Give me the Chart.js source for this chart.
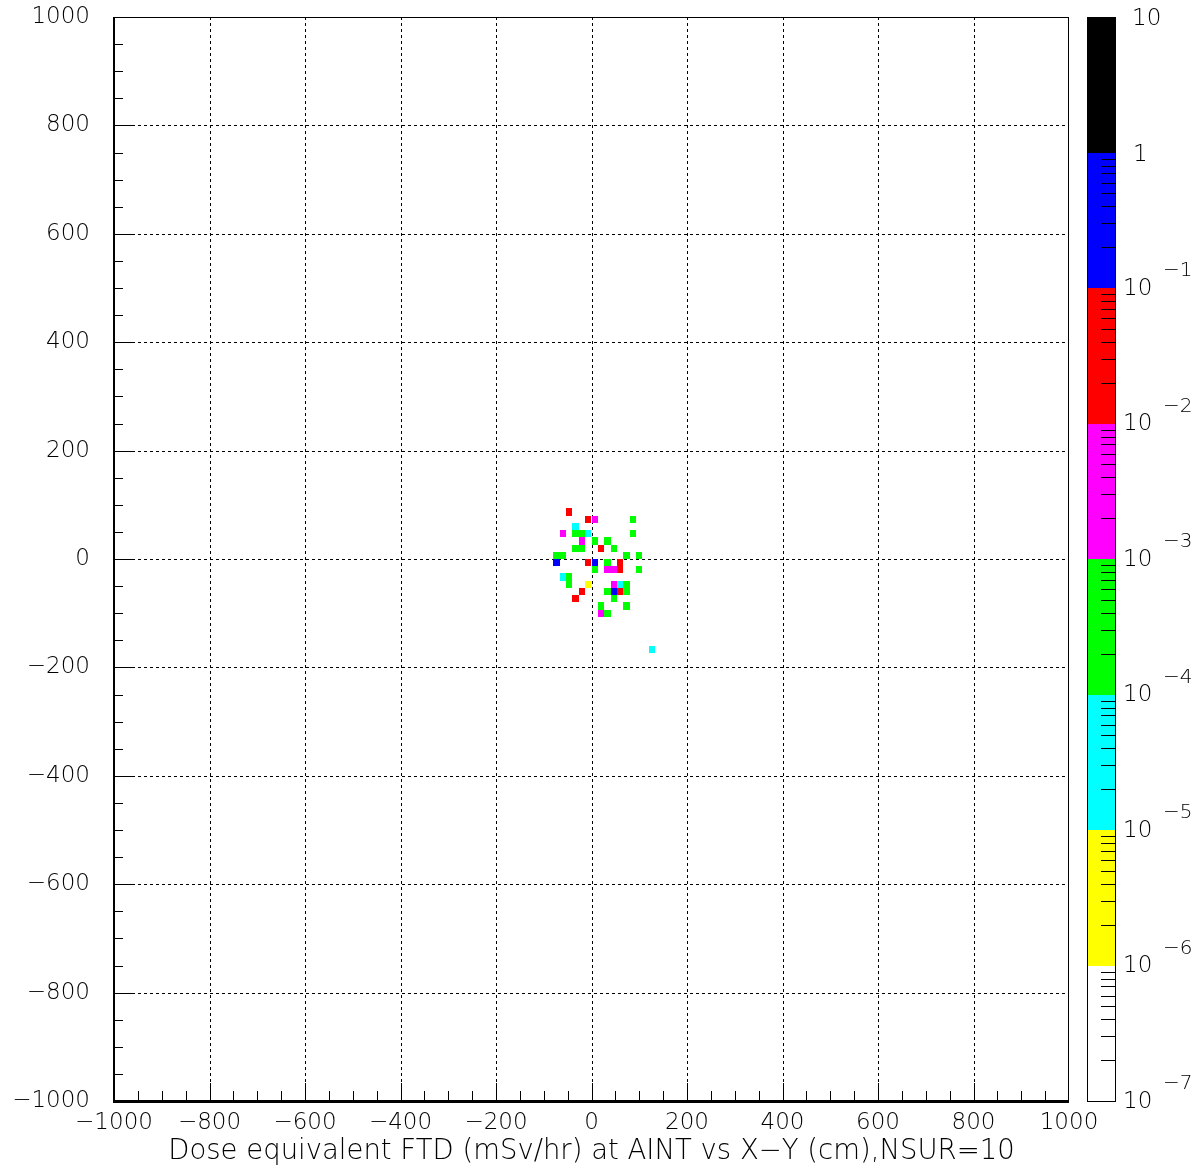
<!DOCTYPE html>
<html><head><meta charset="utf-8">
<script src="https://cdn.jsdelivr.net/npm/chart.js@4.4.1/dist/chart.umd.min.js"></script>
<style>html,body{margin:0;padding:0;background:#fff;}canvas{display:block;}</style>
</head><body>
<canvas id="c" width="1202" height="1173"></canvas>
<script>
// ---- data (bin centres in cm, dose equivalent in mSv/hr) ----
const cellX = [
  -46.7,
  -6.7, 6.7, 86.7,
  -33.3,
  -60.0, -33.3, -20.0, -6.7, 86.7,
  -20.0, 6.7, 33.3,
  -33.3, -20.0, 20.0, 46.7,
  -73.3, -60.0, 73.3, 100.0,
  -73.3, -6.7, 6.7, 33.3, 60.0,
  6.7, 33.3, 46.7, 60.0, 100.0,
  -60.0, -46.7,
  -46.7, -6.7, 46.7, 60.0, 73.3,
  -20.0, 33.3, 46.7, 60.0, 73.3,
  -33.3, 46.7,
  20.0, 73.3,
  20.0, 33.3,
  126.7
];
const cellY = [
  86.7,
  73.3, 73.3, 73.3,
  60.0,
  46.7, 46.7, 46.7, 46.7, 46.7,
  33.3, 33.3, 33.3,
  20.0, 20.0, 20.0, 20.0,
  6.7, 6.7, 6.7, 6.7,
  -6.7, -6.7, -6.7, -6.7, -6.7,
  -20.0, -20.0, -20.0, -20.0, -20.0,
  -33.3, -33.3,
  -46.7, -46.7, -46.7, -46.7, -46.7,
  -60.0, -60.0, -60.0, -60.0, -60.0,
  -73.3, -73.3,
  -86.7, -86.7,
  -100.0, -100.0,
  -166.7
];
const cellDose = [
  3e-2,
  3e-2, 3e-3, 3e-4,
  3e-5,
  3e-3, 3e-4, 3e-4, 3e-5, 3e-4,
  3e-3, 3e-4, 3e-4,
  3e-4, 3e-4, 3e-2, 3e-4,
  3e-4, 3e-4, 3e-4, 3e-4,
  3e-1, 3e-2, 3e-1, 3e-4, 3e-2,
  3e-4, 3e-3, 3e-3, 3e-2, 3e-4,
  3e-5, 3e-4,
  3e-4, 3e-6, 3e-3, 3e-5, 3e-4,
  3e-2, 3e-4, 3e-1, 3e-2, 3e-4,
  3e-2, 3e-4,
  3e-4, 3e-4,
  3e-3, 3e-4,
  3e-5
];
const axisTicks = [-1000,-800,-600,-400,-200,0,200,400,600,800,1000];
const colourLevels = [1e-7,1e-6,1e-5,1e-4,1e-3,1e-2,1e-1,1,10];
const colourExponents = [-7,-6,-5,-4,-3,-2,-1,0,1];
const levelColours = ['#ffffff','#ffff00','#00ffff','#00ff00','#ff00ff','#ff0000','#0000ff','#000000'];
const xTitle = 'Dose equivalent FTD (mSv/hr) at AINT vs X\u2212Y (cm),NSUR=10';
const BIN = 2000/150;

const FONT = "'DejaVu Sans ExtraLight', 'DejaVu Sans Light', 'DejaVu Sans'";
const fmt = v => v < 0 ? '\u2212' + Math.abs(v) : String(v);
function colourFor(v){
  for (let i = colourLevels.length-2; i >= 0; i--) if (v >= colourLevels[i]) return levelColours[i];
  return null;
}

const drawPlugin = {
  id: 'root2d',
  beforeDatasetsDraw(chart){
    const {ctx, chartArea:a, scales:{x,y}} = chart;
    ctx.save();
    ctx.strokeStyle = '#000'; ctx.lineWidth = 1; ctx.setLineDash([3,3]);
    axisTicks.forEach(v => {
      if (v === -1000 || v === 1000) return;
      const px = Math.round(x.getPixelForValue(v)) + 0.5;
      ctx.beginPath(); ctx.moveTo(px, a.top); ctx.lineTo(px, a.bottom); ctx.stroke();
      const py = Math.round(y.getPixelForValue(v)) + 0.5;
      ctx.beginPath(); ctx.moveTo(a.left, py); ctx.lineTo(a.right, py); ctx.stroke();
    });
    ctx.restore();
  },
  afterDatasetsDraw(chart){
    const {ctx, chartArea:a, scales:{x,y,z}} = chart;
    ctx.save();
    // cells
    for (let i = 0; i < cellX.length; i++){
      const c = colourFor(cellDose[i]); if (!c) continue;
      const x0 = Math.round(x.getPixelForValue(cellX[i]-BIN/2));
      const x1 = Math.round(x.getPixelForValue(cellX[i]+BIN/2));
      const y0 = Math.round(y.getPixelForValue(cellY[i]+BIN/2));
      const y1 = Math.round(y.getPixelForValue(cellY[i]-BIN/2));
      ctx.fillStyle = c; ctx.fillRect(x0, y0, x1-x0, y1-y0);
    }
    // frame
    ctx.strokeStyle = '#000';
    ctx.lineWidth = 1;
    ctx.strokeRect(a.left+0.5, a.top+0.5, a.right-a.left-1, a.bottom-a.top-1);
    ctx.lineWidth = 2;
    ctx.beginPath(); ctx.moveTo(a.left, a.top); ctx.lineTo(a.left, a.bottom+1); ctx.lineTo(a.right, a.bottom+1); ctx.stroke();
    // tick marks
    ctx.lineWidth = 1;
    for (let v = -950; v <= 950; v += 50){
      const major = v % 200 === 0;
      const px = Math.round(x.getPixelForValue(v)) + 0.5;
      ctx.beginPath(); ctx.moveTo(px, a.bottom); ctx.lineTo(px, a.bottom - (major ? 18 : 10)); ctx.stroke();
      const py = Math.round(y.getPixelForValue(v)) + 0.5;
      ctx.beginPath(); ctx.moveTo(a.left, py); ctx.lineTo(a.left + (major ? 18 : 9), py); ctx.stroke();
    }
    // colour bar
    const bx0 = z.left + 18, bx1 = z.left + 47;
    for (let i = 0; i < levelColours.length; i++){
      const yb = Math.round(z.getPixelForValue(colourLevels[i]));
      const yt = Math.round(z.getPixelForValue(colourLevels[i+1]));
      ctx.fillStyle = levelColours[i];
      ctx.fillRect(bx0, yt, bx1-bx0, yb-yt);
    }
    ctx.strokeStyle = '#000'; ctx.lineWidth = 1;
    for (let d = 0; d < colourLevels.length-1; d++){
      for (let j = 2; j <= 9; j++){
        const py = Math.round(z.getPixelForValue(colourLevels[d]*j)) + 0.5;
        ctx.beginPath(); ctx.moveTo(bx1-15, py); ctx.lineTo(bx1, py); ctx.stroke();
      }
    }
    ctx.strokeRect(bx0+0.5, Math.round(z.getPixelForValue(10))+0.5, bx1-bx0-1, Math.round(z.getPixelForValue(1e-7)) - Math.round(z.getPixelForValue(10)));
    // colour bar labels
    ctx.fillStyle = '#000'; ctx.textAlign = 'left'; ctx.textBaseline = 'middle';
    colourExponents.forEach((e, i) => {
      const py = z.getPixelForValue(colourLevels[i]);
      if (e === 1){
        ctx.font = "200 23px " + FONT; ctx.fillText('10', z.left + 63, py + 2);
      } else if (e === 0){
        ctx.font = "200 23px " + FONT; ctx.fillText('1', z.left + 64, py + 3);
      } else {
        ctx.font = "200 23px " + FONT; ctx.fillText('10', z.left + 54, py + 1);
        ctx.font = "200 20px " + FONT; ctx.fillText('\u2212' + Math.abs(e), z.left + 94, py - 17);
      }
    });
    ctx.restore();
  }
};

const zeroPad = s => { s.paddingTop = 0; s.paddingBottom = 0; s.paddingLeft = 0; s.paddingRight = 0; };

new Chart(document.getElementById('c'), {
  type: 'scatter',
  data: { datasets: [{ data: cellX.map((v,i)=>({x:v, y:cellY[i]})), pointRadius: 0, pointHoverRadius: 0, showLine: false }] },
  options: {
    responsive: false, animation: false,
    layout: { padding: { top: 17, left: 0, right: 0, bottom: 0 } },
    plugins: { legend: {display:false}, tooltip: {enabled:false}, title: {display:false} },
    events: [],
    scales: {
      x: {
        type: 'linear', position: 'bottom', min: -1000, max: 1000,
        afterBuildTicks: s => { s.ticks = axisTicks.map(v => ({value: v})); },
        afterFit: s => { s.height = 72; zeroPad(s); },
        grid: { display: false, drawTicks: false },
        border: { display: false },
        ticks: { autoSkip: false, maxRotation: 0, padding: 8, color: '#000', font: { family: FONT, size: 23, weight: 200 }, callback: v => fmt(v) },
        title: { display: true, text: xTitle, color: '#000', font: { family: FONT, size: 27.5, weight: 200 }, padding: { top: 0, bottom: 5 } }
      },
      y: {
        type: 'linear', position: 'left', min: -1000, max: 1000,
        afterBuildTicks: s => { s.ticks = axisTicks.map(v => ({value: v})); },
        afterFit: s => { s.width = 114; zeroPad(s); },
        grid: { display: false, drawTicks: false },
        border: { display: false },
        ticks: { autoSkip: false, padding: 24, color: '#000', font: { family: FONT, size: 23, weight: 200 }, callback: v => fmt(v) }
      },
      z: {
        type: 'logarithmic', position: 'right', min: 1e-7, max: 10,
        afterFit: s => { s.width = 133; zeroPad(s); },
        grid: { display: false, drawTicks: false },
        border: { display: false },
        ticks: { display: false }
      }
    }
  },
  plugins: [drawPlugin]
});
</script>
</body></html>
